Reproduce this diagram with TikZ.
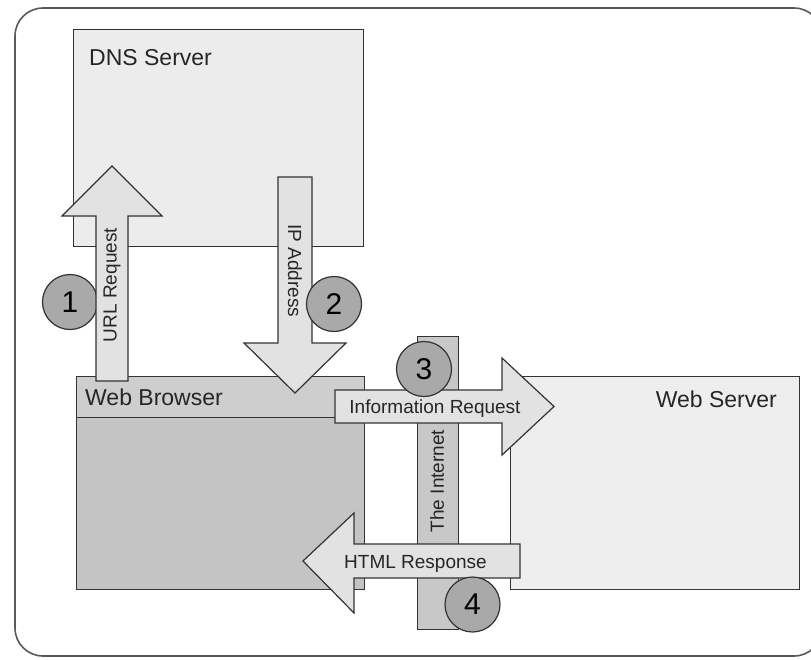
\documentclass[tikz,border=0pt]{standalone}
\usepackage{fontspec}
\setmainfont{Liberation Sans}
\definecolor{dnsfill}{HTML}{ECECEC}
\definecolor{srvfill}{HTML}{EEEEEE}
\definecolor{brwhead}{HTML}{CECECE}
\definecolor{brwbody}{HTML}{C4C4C4}
\definecolor{netfill}{HTML}{C8C8C8}
\definecolor{arrowfill}{HTML}{E2E2E2}
\definecolor{numfill}{HTML}{A9A9A9}
\definecolor{edge}{HTML}{333333}
\begin{document}
\begin{tikzpicture}[x=1pt,y=-1pt,line join=miter,
  box/.style={draw=edge,line width=1.3pt,inner sep=0pt,anchor=north west},
  blk/.style={draw=edge,line width=1.2pt,fill=arrowfill},
  num/.style={circle,draw=edge,line width=1.2pt,fill=numfill,minimum size=55pt,inner sep=0pt,font=\fontsize{30}{30}\selectfont},
  lbl/.style={inner sep=0pt,font=\fontsize{19}{19}\selectfont,text=black!85},
  title/.style={inner sep=0pt,font=\fontsize{23}{23}\selectfont,text=black!85}]
\useasboundingbox (0,0) rectangle (811,659);
\fill[white] (0,0) rectangle (811,659);
\begin{scope}
\clip (0,0) rectangle (811,659);
\draw[draw=black!65,line width=1.6pt,rounded corners=28pt] (15,8) rectangle (822,656);
\end{scope}
% boxes
\node[box,fill=dnsfill,minimum width=290pt,minimum height=217pt] (dns) at (73,29) {};
\node[box,fill=srvfill,minimum width=289pt,minimum height=213pt] (srv) at (510,376) {};
\node[box,fill=brwbody,minimum width=288pt,minimum height=213pt] (brw) at (76,376) {};
\node[box,fill=brwhead,minimum width=288pt,minimum height=41pt] (brwh) at (76,376) {};
\node[title,anchor=base west] (dnst) at (89,65) {DNS Server};
\node[title,anchor=base west] (brwt) at (85,405) {Web Browser};
\node[title,anchor=base east] (srvt) at (777,407) {Web Server};
% the internet bar
\node[box,fill=netfill,minimum width=41pt,minimum height=293pt] (net) at (417,336) {};
\node[lbl,rotate=90] (nett) at (437,481) {The Internet};
% step 1
\node[num] (n1) at (70,302) {1};
\draw[blk] (96,381) -- (96,216) -- (62,216) -- (112,166) -- (162,216) -- (128,216) -- (128,381) -- cycle;
\node[lbl,rotate=90] (urlt) at (112,285) {URL Request};
% step 2
\draw[blk] (278,177) -- (312,177) -- (312,343) -- (346,343) -- (295,393) -- (244,343) -- (278,343) -- cycle;
\node[lbl,rotate=-90] (ipt) at (295,271) {IP Address};
\node[num] (n2) at (334,304) {2};
% step 3
\draw[blk] (335,390) -- (502,390) -- (502,358) -- (554,406.5) -- (502,455) -- (502,423) -- (335,423) -- cycle;
\node[lbl,anchor=base] (inft) at (435,413) {Information Request};
\node[num] (n3) at (424,369) {3};
% step 4
\draw[blk] (520,544) -- (354,544) -- (354,513) -- (303,561) -- (354,613) -- (354,578) -- (520,578) -- cycle;
\node[lbl,anchor=base] (htmt) at (415.5,568) {HTML Response};
\node[num] (n4) at (472.5,604.5) {4};
\end{tikzpicture}
\end{document}
